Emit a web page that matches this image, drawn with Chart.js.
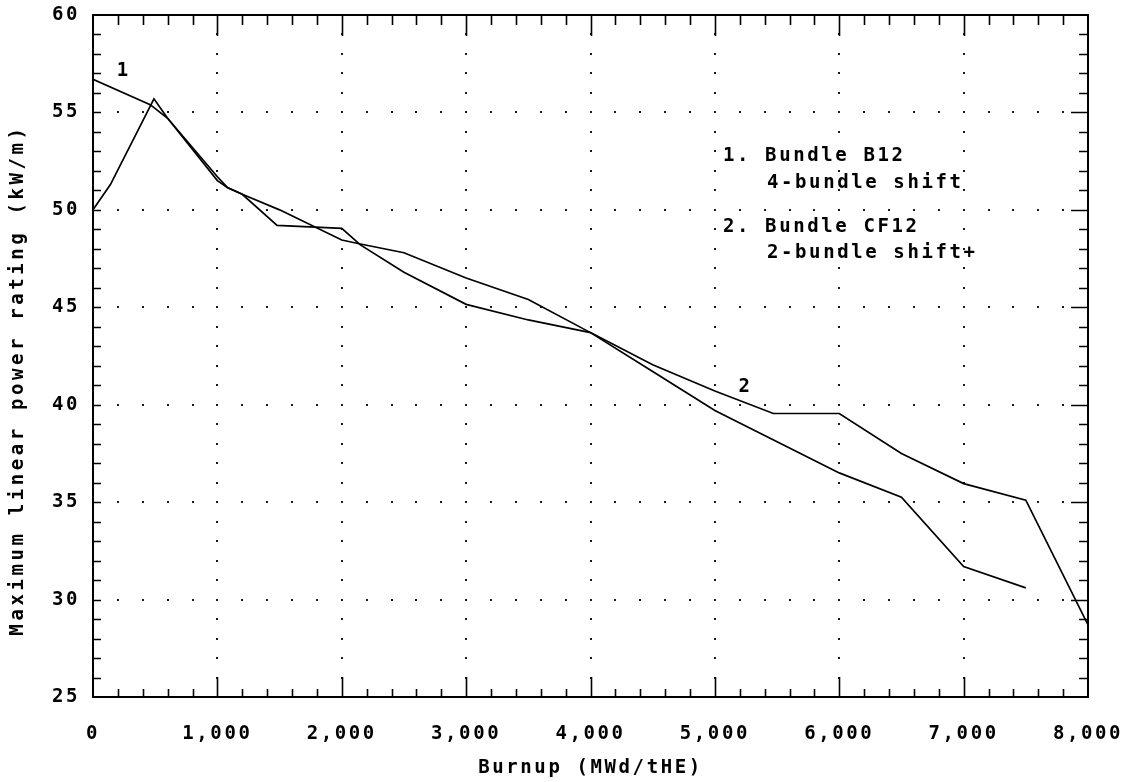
<!DOCTYPE html>
<html>
<head>
<meta charset="utf-8">
<script src="https://cdn.jsdelivr.net/npm/chart.js@4.4.1/dist/chart.umd.min.js"></script>
<style>
html,body{margin:0;padding:0;background:#fff;}
#wrap{width:1134px;height:782px;position:relative;}
</style>
</head>
<body>
<div id="wrap"><canvas id="c" width="1134" height="782"></canvas></div>
<script>
// ---- data ----
const xTickValues = [0, 1000, 2000, 3000, 4000, 5000, 6000, 7000, 8000];
const xTickLabels = ['0', '1,000', '2,000', '3,000', '4,000', '5,000', '6,000', '7,000', '8,000'];
const yTickValues = [25, 30, 35, 40, 45, 50, 55, 60];
const yTickLabels = ['25', '30', '35', '40', '45', '50', '55', '60'];

// Series 1: Bundle B12, 4-bundle shift
const s1Burnup = [0, 460, 600, 1000, 1080, 1200, 1500, 2000, 2150, 2500, 3000, 3500, 4000, 4500, 5000, 5500, 6000, 6500, 7000, 7500];
const s1Rating = [56.7, 55.4, 54.7, 51.7, 51.15, 50.8, 50.0, 48.45, 48.25, 47.8, 46.5, 45.4, 43.7, 41.7, 39.7, 38.1, 36.5, 35.25, 31.7, 30.6];

// Series 2: Bundle CF12, 2-bundle shift
const s2Burnup = [0, 140, 490, 600, 1000, 1080, 1200, 1480, 2000, 2150, 2500, 3000, 3500, 4000, 4500, 5000, 5470, 6000, 6500, 7000, 7500, 8000];
const s2Rating = [50.0, 51.3, 55.7, 54.7, 51.5, 51.15, 50.8, 49.2, 49.05, 48.2, 46.8, 45.15, 44.35, 43.7, 42.05, 40.7, 39.55, 39.55, 37.5, 35.95, 35.1, 28.7];

const seriesNames = ['Bundle B12, 4-bundle shift', 'Bundle CF12, 2-bundle shift'];
const curveLabels = ['1', '2'];
const legendLines = ['1. Bundle B12', '4-bundle shift', '2. Bundle CF12', '2-bundle shift+'];
const xTitle = 'Burnup (MWd/tHE)';
const yTitle = 'Maximum linear power rating (kW/m)';

// ---- rendering ----
const FONT_FAMILY = '"DejaVu Sans Mono", "Liberation Mono", monospace';
const SPACING = '2.6px';

function pts(xs, ys) { return xs.map((v, i) => ({x: v, y: ys[i]})); }

const decor = {
  id: 'decor',
  beforeDraw(chart) { chart.ctx.letterSpacing = SPACING; },
  beforeDatasetsDraw(chart) {
    const {ctx, scales: {x, y}} = chart;
    ctx.save();
    ctx.fillStyle = '#1a1a1a';
    for (let v = 1000; v < 8000; v += 1000) {
      const px = Math.round(x.getPixelForValue(v));
      for (let u = 26; u < 60; u++) {
        const py = Math.round(y.getPixelForValue(u));
        ctx.fillRect(px - 1, py - 1, 2, 2);
      }
    }
    for (let u = 30; u < 60; u += 5) {
      const py = Math.round(y.getPixelForValue(u));
      for (let v = 200; v < 8000; v += 200) {
        const px = Math.round(x.getPixelForValue(v));
        ctx.fillRect(px - 1, py - 1, 2, 2);
      }
    }
    ctx.restore();
  },
  afterDraw(chart) {
    const {ctx, chartArea: a, scales: {x, y}} = chart;
    ctx.save();
    ctx.letterSpacing = '0px';
    ctx.strokeStyle = '#000';
    ctx.lineWidth = 2;
    ctx.strokeRect(a.left, a.top, a.right - a.left, a.bottom - a.top);
    ctx.lineWidth = 1.6;
    ctx.beginPath();
    for (let v = 200; v < 8000; v += 200) {
      const px = Math.round(x.getPixelForValue(v)) + 0.5;
      const major = v % 1000 === 0;
      ctx.moveTo(px, a.bottom); ctx.lineTo(px, a.bottom - (major ? 20 : 8));
      ctx.moveTo(px, a.top); ctx.lineTo(px, a.top + (major ? 21 : 10));
    }
    for (let u = 26; u < 60; u++) {
      const py = Math.round(y.getPixelForValue(u)) + 0.5;
      const major = u % 5 === 0;
      ctx.moveTo(a.left, py); ctx.lineTo(a.left + 8, py);
      ctx.moveTo(a.right, py); ctx.lineTo(a.right - (major ? 17 : 9), py);
    }
    ctx.stroke();

    ctx.letterSpacing = SPACING;
    ctx.fillStyle = '#000';
    ctx.font = 'bold 19px ' + FONT_FAMILY;
    ctx.textBaseline = 'middle';
    ctx.textAlign = 'left';
    ctx.fillText(curveLabels[0], x.getPixelForValue(190), y.getPixelForValue(57.1));
    ctx.fillText(curveLabels[1], x.getPixelForValue(5190), y.getPixelForValue(40.9));
    const lx = a.left + 630, lx2 = a.left + 674;
    ctx.fillText(legendLines[0], lx, 156);
    ctx.fillText(legendLines[1], lx2, 183);
    ctx.fillText(legendLines[2], lx, 227);
    ctx.fillText(legendLines[3], lx2, 253);
    ctx.letterSpacing = '3.6px';
    ctx.translate(18, 380);
    ctx.rotate(-Math.PI / 2);
    ctx.textAlign = 'center';
    ctx.fillText(yTitle, 0, 0);
    ctx.restore();
    chart.ctx.letterSpacing = '0px';
  }
};

new Chart(document.getElementById('c'), {
  type: 'line',
  data: {
    datasets: [
      {label: seriesNames[0], data: pts(s1Burnup, s1Rating), borderColor: '#000', borderWidth: 1.7, pointRadius: 0, tension: 0, fill: false},
      {label: seriesNames[1], data: pts(s2Burnup, s2Rating), borderColor: '#000', borderWidth: 1.7, pointRadius: 0, tension: 0, fill: false}
    ]
  },
  options: {
    responsive: false,
    animation: false,
    layout: {padding: {top: 15, right: 46, left: 0, bottom: 0}},
    plugins: {legend: {display: false}, tooltip: {enabled: false}},
    scales: {
      x: {
        type: 'linear', min: 0, max: 8000,
        afterFit(s) { s.height = 85; s.paddingLeft = 0; s.paddingRight = 0; },
        afterBuildTicks(s) { s.ticks = xTickValues.map(v => ({value: v})); },
        grid: {display: false, drawTicks: false},
        border: {display: false},
        ticks: {
          color: '#000', padding: 26,
          font: {family: FONT_FAMILY, size: 19, weight: 'bold'},
          callback: (v) => xTickLabels[xTickValues.indexOf(v)]
        },
        title: {display: true, text: xTitle, color: '#000', padding: {top: 0, bottom: 3},
          font: {family: FONT_FAMILY, size: 19, weight: 'bold'}}
      },
      y: {
        type: 'linear', min: 25, max: 60,
        afterFit(s) { s.width = 93; s.paddingTop = 0; s.paddingBottom = 0; },
        afterBuildTicks(s) { s.ticks = yTickValues.map(v => ({value: v})); },
        grid: {display: false, drawTicks: false},
        border: {display: false},
        ticks: {
          color: '#000', padding: 13,
          font: {family: FONT_FAMILY, size: 19, weight: 'bold'},
          callback: (v) => yTickLabels[yTickValues.indexOf(v)]
        }
      }
    }
  },
  plugins: [decor]
});
</script>
</body>
</html>
